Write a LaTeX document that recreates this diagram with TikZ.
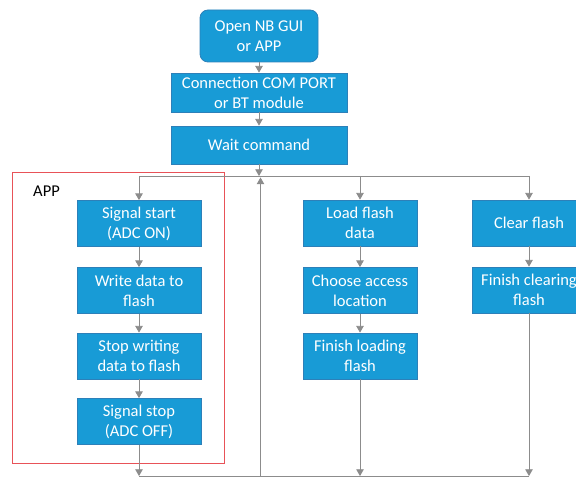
\documentclass[tikz,border=0pt]{standalone}
\usepackage{fontspec}
\setmainfont{Carlito}
\usetikzlibrary{arrows}
\definecolor{boxblue}{RGB}{24,155,214}
\definecolor{boxedge}{RGB}{45,128,185}
\definecolor{lineg}{RGB}{140,140,140}
\definecolor{appred}{RGB}{232,82,88}

\begin{document}
\begin{tikzpicture}[x=1pt, y=-1pt, font=\fontsize{16.5}{20}\selectfont,
	blk/.style={draw=boxedge, fill=boxblue, text=white, align=center, inner sep=0pt, line width=0.8pt},
	colbox/.style={blk, minimum width=114pt, minimum height=46pt},
	lnk/.style={draw=lineg, line width=0.8pt},
	arr/.style={lnk, -triangle 60}]
	\useasboundingbox (0,0) rectangle (576,478);
	\node [blk, rounded corners=8pt, minimum width=118pt, minimum height=52pt] (open) at (259,36) {Open NB GUI\\or APP};
	\node [blk, minimum width=176pt, minimum height=39pt] (conn) at (259,92.5) {Connection COM PORT\\or BT module};
	\node [blk, minimum width=176pt, minimum height=38pt] (wait) at (259,145) {Wait command};
	\node [colbox, minimum width=124pt] (start) at (139,223.5) {Signal start\\(ADC ON)};
	\node [colbox, minimum width=124pt] (write) at (139,290.5) {Write data to\\flash};
	\node [colbox, minimum width=124pt] (stopw) at (139,356) {Stop writing\\data to flash};
	\node [colbox, minimum width=124pt] (stop) at (139,421.5) {Signal stop\\(ADC OFF)};
	\node [colbox] (load) at (360,223) {Load flash\\data};
	\node [colbox] (choose) at (360,290.5) {Choose access\\location};
	\node [colbox] (loaded) at (360,356) {Finish loading\\flash};
	\node [colbox] (clear) at (529,223) {Clear flash};
	\node [colbox] (cleared) at (529,290) {Finish clearing\\flash};
	\draw [appred, line width=0.9pt] (12,172) rectangle (224,463);
	\node [right, inner sep=0pt] (app) at (33,191) {APP};
	\coordinate (TL) at (139,176);
	\coordinate (TW) at (259,176);
	\coordinate (TM) at (360,176);
	\coordinate (TR) at (529,176);
	\coordinate (BL) at (139,476);
	\coordinate (BM) at (360,476);
	\coordinate (BR) at (529,476);
	\coordinate (RT) at (260.5,177.5);
	\coordinate (RB) at (260.5,476);
	\draw [arr] (open) -- (conn);
	\draw [arr] (conn) -- (wait);
	\draw [arr] (wait) -- (TW);
	\draw [lnk] (TL) -- (TR);
	\draw [arr] (TL) -- (start);
	\draw [arr] (TM) -- (load);
	\draw [arr] (TR) -- (clear);
	\draw [arr] (start) -- (write);
	\draw [arr] (write) -- (stopw);
	\draw [arr] (stopw) -- (stop);
	\draw [arr] (load) -- (choose);
	\draw [arr] (choose) -- (loaded);
	\draw [arr] (clear) -- (cleared);
	\draw [lnk] (BL) -- (BR);
	\draw [arr] (stop) -- (BL);
	\draw [arr] (loaded) -- (BM);
	\draw [arr] (cleared) -- (BR);
	\draw [arr] (RB) -- (RT);
\end{tikzpicture}
\end{document}
